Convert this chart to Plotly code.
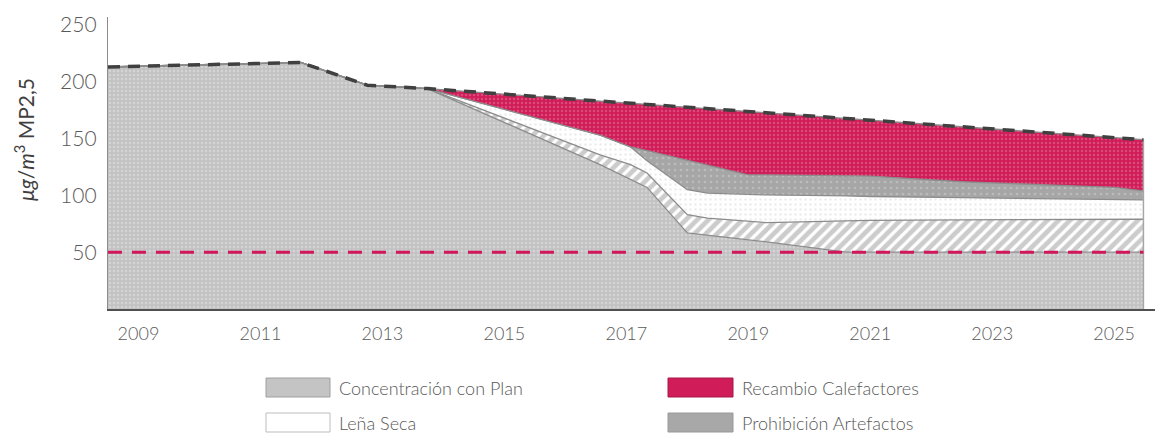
import plotly.graph_objects as go

# ---------------- data ----------------
years = [2008.5, 2011.66, 2012.75, 2013.74, 2016.57, 2017.07, 2017.34, 2018.0,
         2018.33, 2019.0, 2019.3, 2020.6, 2021.0, 2022.5, 2025.0, 2025.48]

conc_plan = [213, 217, 197, 194, 127, 114, 107, 67, 65, 61, 59, 50, 50, 50, 50, 50]
otras     = [0, 0, 0, 0, 8.6, 13, 12.7, 16, 15, 16, 17, 27.5, 28, 28.5, 29, 29]
lena_seca = [0, 0, 0, 0, 17.4, 15.6, 10.8, 22, 22, 23.5, 24.4, 22, 21, 19.5, 17.5, 17]
prohibicion = [0, 0, 0, 0, 0, 0, 8.8, 26, 25, 17.5, 17.6, 18, 18, 14, 10.5, 8]
recambio  = [0, 0, 0, 0, 30, 38.6, 40.9, 46.7, 49.4, 55.8, 54.7, 50.2, 49.2, 48.4, 43.8, 45]

norma = 50
x_ticks = [2009, 2011, 2013, 2015, 2017, 2019, 2021, 2023, 2025]
y_ticks = [50, 100, 150, 200, 250]

# ---------------- layout geometry (pixels) ----------------
OFF = 8  # page body margin of the browser
W, H = 1166 - OFF, 434 - OFF
L, R, T, B = 108 - OFF, 11, 17 - OFF, 125
PW = W - L - R
PH = H - T - B

def px_x(p):
    return (p - OFF - L) / PW

def px_y(p):
    return (H - B - (p - OFF)) / PH

FONT = "Lato"
TXT = "#595959"
EDGE = "#8c8c8c"

fig = go.Figure()

layers = [
    ("Concentración con Plan", conc_plan, "#c2c2c2", dict(shape=".", fgcolor="#e6e6e6", size=4, solidity=0.3)),
    ("Otras Medidas", otras, "#ffffff", dict(shape="/", fgcolor="#9a9a9a", size=8, solidity=0.6)),
    ("Leña Seca", lena_seca, "#ffffff", dict(shape=".", fgcolor="#d9d9d9", size=5, solidity=0.2)),
    ("Prohibición Artefactos", prohibicion, "#a6a6a6", dict(shape=".", fgcolor="#cfcfcf", size=6, solidity=0.15)),
    ("Recambio Calefactores", recambio, "#d01c58", dict(shape=".", fgcolor="#e57a9c", size=4, solidity=0.3)),
]

for name, vals, col, pat in layers:
    fig.add_trace(go.Scatter(
        x=years, y=vals, name=name, stackgroup="one", mode="lines",
        line=dict(color=EDGE, width=1.3),
        fillcolor=col,
        fillpattern=dict(fillmode="overlay", **pat),
        showlegend=False, hoverinfo="skip",
    ))

total = [sum(v) for v in zip(conc_plan, otras, lena_seca, prohibicion, recambio)]

# right border of the stacked area
fig.add_trace(go.Scatter(x=[years[-1], years[-1]], y=[0, total[-1]], mode="lines",
                         line=dict(color="#a6a6a6", width=1.5), showlegend=False, hoverinfo="skip"))

# total without plan (dashed dark line)
fig.add_trace(go.Scatter(x=years, y=total, mode="lines", name="Concentración sin Plan",
                         line=dict(color="#404040", width=3.5, dash="12px,8px"),
                         showlegend=False, hoverinfo="skip"))

# norm line
fig.add_trace(go.Scatter(x=[years[0], years[-1]], y=[norma, norma], mode="lines", name="Norma",
                         line=dict(color="#d0175a", width=3, dash="14px,10px"),
                         showlegend=False, hoverinfo="skip"))

# ---------------- custom legend ----------------
legend_items = [
    ("Concentración con Plan", "#c4c4c4", "#a0a0a0", 266, 330, 378, 397),
    ("Leña Seca", "#ffffff", "#bdbdbd", 266, 330, 413, 432),
    ("Recambio Calefactores", "#d01c58", "#a8164a", 668, 733, 378, 397),
    ("Prohibición Artefactos", "#a8a8a8", "#999999", 668, 733, 413, 432),
]
shapes = []
annotations = []
for label, fc, lc, x0, x1, y0, y1 in legend_items:
    shapes.append(dict(type="rect", xref="paper", yref="paper",
                       x0=px_x(x0), x1=px_x(x1), y0=px_y(y1), y1=px_y(y0),
                       fillcolor=fc, line=dict(color=lc, width=1)))
    annotations.append(dict(xref="paper", yref="paper", x=px_x(x1 + 7), y=px_y((y0 + y1) / 2),
                            xanchor="left", yanchor="middle", showarrow=False, text=label,
                            font=dict(family=FONT, size=18, color=TXT, weight=300)))

annotations.append(dict(xref="paper", yref="paper", x=px_x(24), y=px_y(140),
                        xanchor="center", yanchor="middle", showarrow=False, textangle=-90,
                        text="<i>μg</i>/<i>m</i><sup>3</sup> MP2,5",
                        font=dict(family=FONT, size=21, color="#404040")))

fig.update_layout(
    width=W, height=H,
    margin=dict(l=L, r=R, t=T, b=B, pad=0, autoexpand=False),
    paper_bgcolor="white", plot_bgcolor="white",
    shapes=shapes, annotations=annotations,
    xaxis=dict(range=[2008.5, 2025.67], tickvals=x_ticks, ticktext=[str(t) for t in x_ticks],
               showgrid=False, zeroline=False, showline=True, linecolor="#505050", linewidth=2,
               ticks="outside", ticklen=7, tickcolor="rgba(0,0,0,0)",
               tickfont=dict(family=FONT, size=18, color=TXT, weight=300)),
    yaxis=dict(range=[0, 257], tickvals=y_ticks, showgrid=False, zeroline=False,
               showline=True, linecolor="#8c8c8c", linewidth=1.3,
               ticks="outside", ticklen=6, tickcolor="rgba(0,0,0,0)",
               tickfont=dict(family=FONT, size=21, color=TXT, weight=300)),
)

fig.write_html("out.html")
